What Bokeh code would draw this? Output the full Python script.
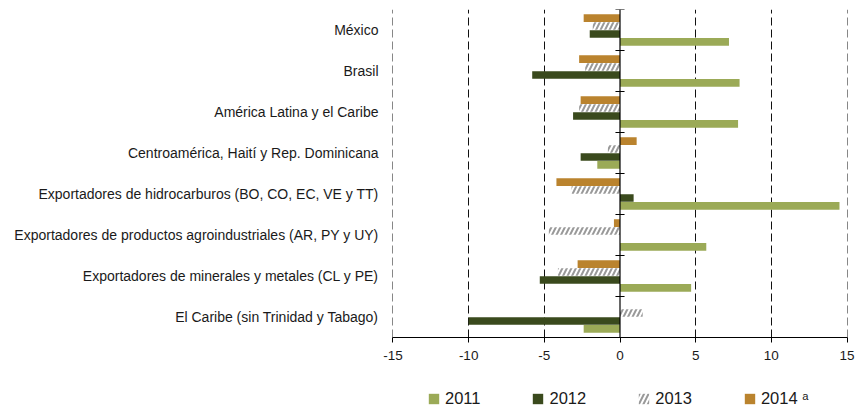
from bokeh.plotting import figure
from bokeh.layouts import column
from bokeh.models import (ColumnDataSource, FixedTicker, Span, Legend, LegendItem)
from bokeh.embed import file_html
from bokeh.resources import INLINE

categories = [
    "México",
    "Brasil",
    "América Latina y el Caribe",
    "Centroamérica, Haití y Rep. Dominicana",
    "Exportadores de hidrocarburos (BO, CO, EC, VE y TT)",
    "Exportadores de productos agroindustriales (AR, PY y UY)",
    "Exportadores de minerales y metales (CL y PE)",
    "El Caribe (sin Trinidad y Tabago)",
]
v2011 = [7.2, 7.9, 7.8, -1.5, 14.5, 5.7, 4.7, -2.4]
v2012 = [-2.0, -5.8, -3.1, -2.6, 0.9, 0.0, -5.3, -10.0]
v2013 = [-1.8, -2.3, -2.7, -0.8, -3.2, -4.7, -4.1, 1.5]
v2014 = [-2.4, -2.7, -2.6, 1.1, -4.2, -0.4, -2.8, float("nan")]
series_labels = ["2011", "2012", "2013", "2014 ᵃ"]
x_ticks = [-15, -10, -5, 0, 5, 10, 15]
x_tick_labels = ["-15", "-10", "-5", "0", "5", "10", "15"]

n = len(categories)
centers = [n - 1 - i + 0.5 for i in range(n)]

FONT = "Liberation Sans"
styles = [
    dict(fill_color="#9BAA57", line_color=None),
    dict(fill_color="#3A4A1D", line_color=None),
    dict(fill_color="white", line_color=None, hatch_pattern="/",
         hatch_color="#999999", hatch_scale=9, hatch_weight=2),
    dict(fill_color="#BA832E", line_color=None),
]
offsets = [-0.29, -0.097, 0.097, 0.29]
bar_h = 0.185
series = [v2011, v2012, v2013, v2014]

p = figure(width=855, height=375, output_backend="svg", toolbar_location=None,
           x_range=(-15.03, 15.03), y_range=(0, n),
           min_border_left=392, min_border_right=8, min_border_top=9,
           min_border_bottom=38)
p.outline_line_color = None
p.background_fill_color = "white"

# grid
p.ygrid.grid_line_color = None
p.xgrid.ticker = FixedTicker(ticks=[t for t in x_ticks if t != 0])
p.xgrid.grid_line_color = "#111111"
p.xgrid.grid_line_dash = "8 4"
p.xgrid.grid_line_width = 1

for vals, off, st in zip(series, offsets, styles):
    s = ColumnDataSource(dict(y=[c + off for c in centers], right=vals,
                              left=[0] * len(vals)))
    p.hbar(y="y", left="left", right="right", height=bar_h, source=s, **st)

# zero line with category boundary ticks
p.add_layout(Span(location=0, dimension="height", line_color="black", line_width=1.2))
bounds = list(range(n + 1))
p.segment(x0=[-0.3] * len(bounds), x1=[0.3] * len(bounds), y0=bounds, y1=bounds,
          line_color="black", line_width=1.2)

# x axis
p.xaxis.ticker = FixedTicker(ticks=x_ticks)
p.xaxis.major_label_overrides = {t: s for t, s in zip(x_ticks, x_tick_labels)}
p.xaxis.axis_line_color = "black"
p.xaxis.major_tick_line_color = "black"
p.xaxis.major_tick_out = 5
p.xaxis.major_tick_in = 0
p.xaxis.minor_tick_line_color = None
p.xaxis.major_label_text_font = FONT
p.xaxis.major_label_text_font_size = "13.5px"
p.xaxis.major_label_text_color = "#1a1a1a"
p.xaxis.major_label_standoff = 8

# y axis (category labels)
p.yaxis.ticker = FixedTicker(ticks=centers)
p.yaxis.major_label_overrides = {c: cat for c, cat in zip(centers, categories)}
p.yaxis.axis_line_color = None
p.yaxis.major_tick_line_color = None
p.yaxis.major_tick_out = 0
p.yaxis.major_tick_in = 0
p.yaxis.minor_tick_line_color = None
p.yaxis.major_label_text_font = FONT
p.yaxis.major_label_text_font_size = "14px"
p.yaxis.major_label_text_color = "#1a1a1a"
p.yaxis.major_label_standoff = 14

# legend strip (proxy renderers kept outside the strip's visible range)
lf = figure(width=855, height=33, output_backend="svg", toolbar_location=None,
            x_axis_type=None, y_axis_type=None, x_range=(0, 1), y_range=(0, 1),
            min_border_left=392, min_border_right=8, min_border_top=0,
            min_border_bottom=0)
lf.outline_line_color = None
lf.grid.grid_line_color = None
legend_rs = []
for vals, st in zip(series, styles):
    s = ColumnDataSource(dict(y=[-10.0], left=[0.0], right=[vals[0]]))
    legend_rs.append(lf.hbar(y="y", left="left", right="right", height=0.5,
                             source=s, **st))

legend = Legend(items=[LegendItem(label=l, renderers=[r], index=0) for l, r in
                       zip(series_labels, legend_rs)],
                orientation="horizontal", location=(35, 0))
legend.glyph_width = 13
legend.glyph_height = 13
legend.label_standoff = 5
legend.spacing = 51
legend.padding = 0
legend.margin = 0
legend.border_line_color = None
legend.background_fill_alpha = 0
legend.label_text_font = FONT
legend.label_text_font_size = "16.5px"
legend.label_text_color = "#1a1a1a"
lf.add_layout(legend)

open("out.html", "w").write(file_html(column(p, lf, spacing=0), INLINE))
